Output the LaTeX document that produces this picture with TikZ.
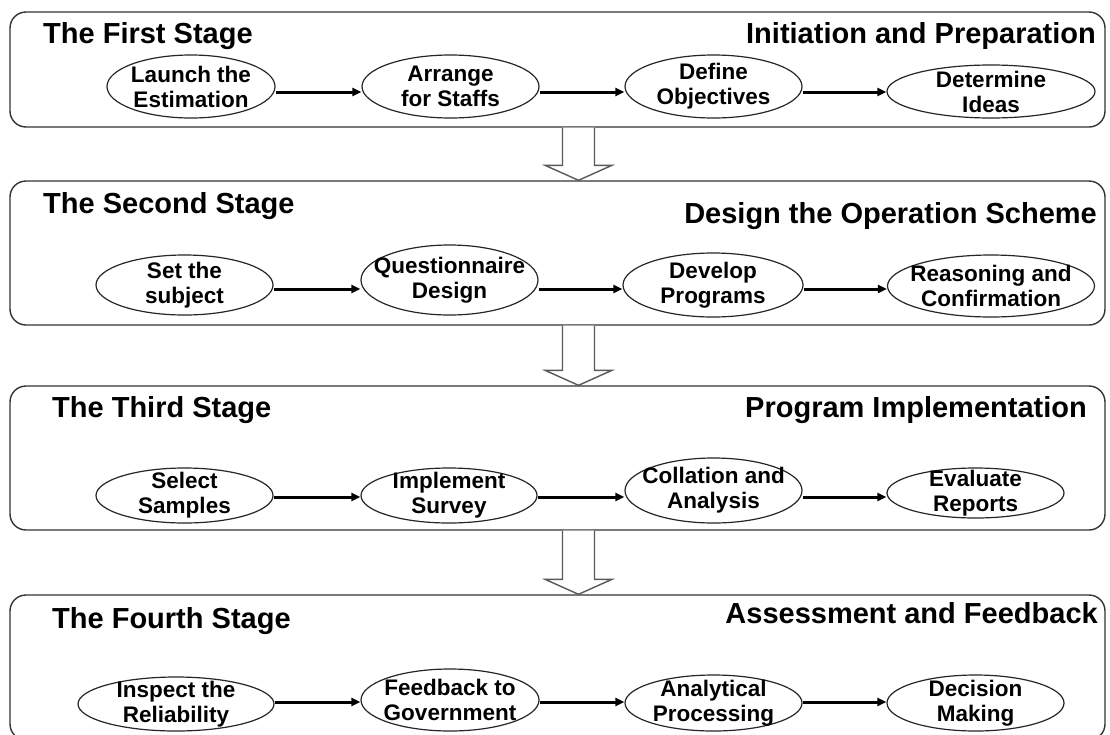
\documentclass[tikz,border=0pt]{standalone}
\usepackage{fontspec}
\setmainfont{Liberation Sans}
\usetikzlibrary{shapes.geometric,arrows.meta,calc}

\begin{document}
\begin{tikzpicture}[x=1pt,y=-1pt,
    stage/.style={draw=black!80,line width=1.4pt,rounded corners=16pt,fill=white,inner sep=0pt},
    title/.style={font=\fontsize{29pt}{34pt}\selectfont\bfseries,inner sep=0pt},
    task/.style={ellipse,draw=black!85,line width=1.2pt,fill=white,inner sep=0pt},
    tasktext/.style={font=\fontsize{22.5pt}{25pt}\selectfont\bfseries,align=center,inner sep=0pt},
    flow/.style={-{Triangle[length=9pt,width=8pt]},line width=3pt},
    hollow/.style={draw=black!65,line width=1.4pt,fill=white,line join=miter}
]
\useasboundingbox (0,0) rectangle (1110,734);

% Stage frames
\node[stage,minimum width=1095pt,minimum height=115pt] (stage1) at (557.5,69.5) {};
\node[stage,minimum width=1095pt,minimum height=144pt] (stage2) at (557.5,253) {};
\node[stage,minimum width=1095pt,minimum height=144pt] (stage3) at (557.5,458) {};
\node[stage,minimum width=1095pt,minimum height=145pt] (stage4) at (557.5,667.5) {};

% Hollow arrows between the stages
\foreach \u/\l in {stage1/stage2,stage2/stage3,stage3/stage4}
  \draw[hollow] ($(\u.south)+(5,0)$) -- ($(\l.north)+(5,-15)$) -- ($(\l.north)+(-12.5,-15)$)
    -- ($(\l.north)+(21,0)$) -- ($(\l.north)+(54.5,-15)$) -- ($(\l.north)+(37,-15)$)
    -- ($(\u.south)+(37,0)$);

% Stage names (left) and goals (right)
\node[title,anchor=base west] (name1) at (43,43) {The First Stage};
\node[title,anchor=base east] (goal1) at (1096,43) {Initiation and Preparation};
\node[title,anchor=base west] (name2) at (43,213) {The Second Stage};
\node[title,anchor=base east] (goal2) at (1097,223) {Design the Operation Scheme};
\node[title,anchor=base west] (name3) at (52,417) {The Third Stage};
\node[title,anchor=base east] (goal3) at (1087,417) {Program Implementation};
\node[title,anchor=base west] (name4) at (52,628) {The Fourth Stage};
\node[title,anchor=base east] (goal4) at (1098,623) {Assessment and Feedback};

% First stage steps
\node[task,minimum width=168pt,minimum height=63pt,label={[tasktext]center:Launch the\\Estimation}] (launch) at (191,86.5) {};
\node[task,minimum width=177pt,minimum height=63pt,label={[tasktext]center:Arrange\\for Staffs}] (arrange) at (450.5,86.5) {};
\node[task,minimum width=177pt,minimum height=63pt,label={[tasktext]center:Define\\Objectives}] (define) at (713.5,86.5) {};
\node[task,minimum width=208pt,minimum height=53pt,label={[tasktext]center:Determine\\Ideas}] (ideas) at (991,91.5) {};

% Second stage steps
\node[task,minimum width=177pt,minimum height=60pt,label={[tasktext]center:Set the\\subject}] (subject) at (184.5,285) {};
\node[task,minimum width=177pt,minimum height=70pt,label={[tasktext]center:Questionnaire\\Design}] (quest) at (449.5,280) {};
\node[task,minimum width=180pt,minimum height=64pt,label={[tasktext]center:Develop\\Programs}] (develop) at (713,285) {};
\node[task,minimum width=207pt,minimum height=62pt,label={[tasktext]center:Reasoning and\\Confirmation}] (reason) at (991,286) {};

% Third stage steps
\node[task,minimum width=177pt,minimum height=55pt,label={[tasktext]center:Select\\Samples}] (samples) at (184.5,495.5) {};
\node[task,minimum width=176pt,minimum height=55pt,label={[tasktext]center:Implement\\Survey}] (survey) at (449,495.5) {};
\node[task,minimum width=177pt,minimum height=65pt,label={[tasktext]center:Collation and\\Analysis}] (collate) at (713.5,490.5) {};
\node[task,minimum width=177pt,minimum height=50pt,label={[tasktext]center:Evaluate\\Reports}] (evaluate) at (975.5,493) {};

% Fourth stage steps
\node[task,minimum width=196pt,minimum height=54pt,label={[tasktext]center:Inspect the\\Reliability}] (inspect) at (176,704) {};
\node[task,minimum width=178pt,minimum height=62pt,label={[tasktext]center:Feedback to\\Government}] (feedback) at (450,700) {};
\node[task,minimum width=177pt,minimum height=56pt,label={[tasktext]center:Analytical\\Processing}] (analyse) at (713.5,703) {};
\node[task,minimum width=177pt,minimum height=56pt,label={[tasktext]center:Decision\\Making}] (decide) at (975.5,703) {};

% arrow levels of the four rows
\coordinate (row1) at (0,92);
\coordinate (row2) at (0,289);
\coordinate (row3) at (0,497);
\coordinate (row4) at (0,702);

\foreach \p/\q/\r in {launch/arrange/row1,arrange/define/row1,define/ideas/row1,
    subject/quest/row2,quest/develop/row2,develop/reason/row2,
    samples/survey/row3,survey/collate/row3,collate/evaluate/row3,
    inspect/feedback/row4,feedback/analyse/row4,analyse/decide/row4}
  \draw[flow] (\p.east |- \r) -- (\q.west |- \r);

\end{tikzpicture}
\end{document}
